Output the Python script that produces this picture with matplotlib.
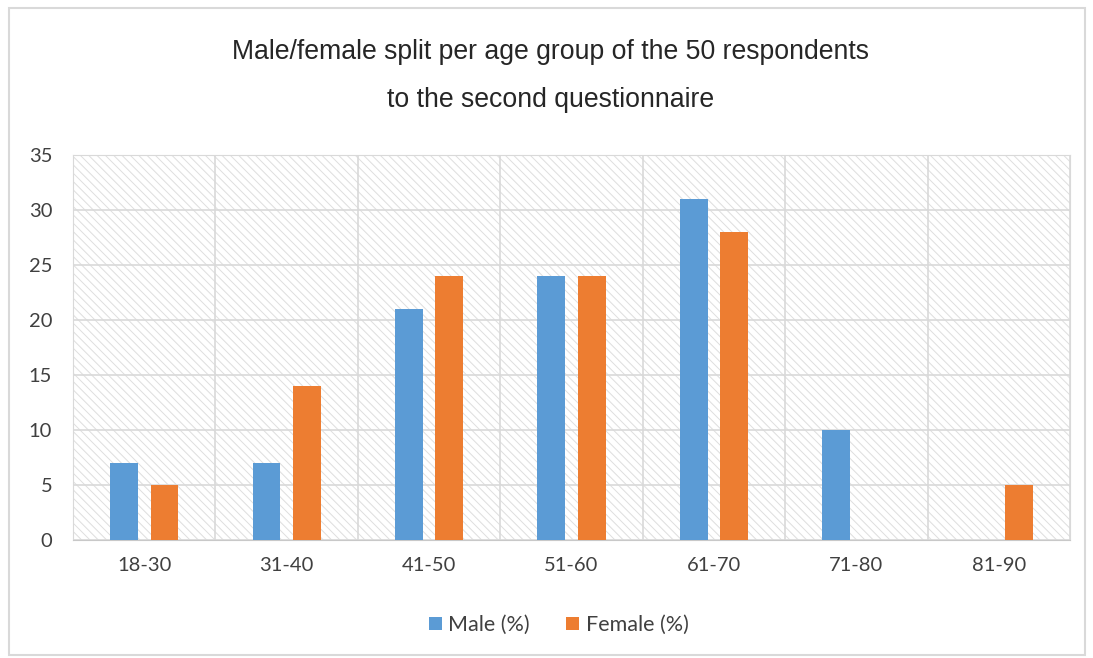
import matplotlib.pyplot as plt
from matplotlib.patches import Rectangle
import numpy as np

# age groups and share of respondents (%) per gender
age_groups = ["18-30", "31-40", "41-50", "51-60", "61-70", "71-80", "81-90"]
male = [7, 7, 21, 24, 31, 10, 0]
female = [5, 14, 24, 24, 28, 0, 5]

blue = "#5B9BD5"
orange = "#ED7D31"
grid_col = "#d9d9d9"

plt.rcParams["hatch.linewidth"] = 0.7

fig = plt.figure(figsize=(10.93, 6.58), dpi=100)
ax = fig.add_axes([0.0668, 0.1793, 0.9122, 0.5851])

x = np.arange(len(age_groups))
w = 0.195
ax.bar(x - 0.142, male, w, color=blue, label="Male (%)", zorder=3)
ax.bar(x + 0.142, female, w, color=orange, label="Female (%)", zorder=3)

ax.set_xlim(-0.5, len(age_groups) - 0.5)
ax.set_ylim(0, 35)
ax.set_yticks(range(0, 36, 5))
ax.set_xticks(x)
ax.set_xticklabels(age_groups)
ax.set_xticks(np.arange(-0.5, len(age_groups), 1), minor=True)

# hatched plot area like the spreadsheet style
hatch = Rectangle((0, 0), 1, 1, transform=ax.transAxes, facecolor="white",
                  edgecolor="#dedede", hatch="\\\\\\\\", linewidth=0, zorder=0)
ax.add_patch(hatch)

ax.grid(axis="y", color=grid_col, linewidth=1.2, zorder=1)
ax.grid(axis="x", which="minor", color=grid_col, linewidth=1.2, zorder=1)
ax.grid(axis="x", which="major", visible=False)
ax.set_axisbelow(True)

for side in ["top", "left", "right"]:
    ax.spines[side].set_color(grid_col)
ax.spines["bottom"].set_color("#c8c8c8")
ax.tick_params(which="both", length=0)
ax.tick_params(axis="y", pad=15, labelsize=14.5, labelcolor="#404040")
ax.tick_params(axis="x", pad=12, labelsize=14.5, labelcolor="#404040")
for lab in ax.get_xticklabels() + ax.get_yticklabels():
    lab.set_family("Lato")

# title on two lines
fig.text(0.504, 0.921, "Male/female split per age group of the 50 respondents",
         ha="center", va="center", fontsize=19.2, family="Liberation Sans", color="#262626")
fig.text(0.504, 0.848, "to the second questionnaire",
         ha="center", va="center", fontsize=19.2, family="Liberation Sans", color="#262626")

leg = fig.legend(loc="center", bbox_to_anchor=(0.511, 0.05), ncol=2, frameon=False,
                 handlelength=0.6, handleheight=0.6, handletextpad=0.3, columnspacing=1.7,
                 prop={"family": "Lato", "size": 15.5})
for t in leg.get_texts():
    t.set_color("#404040")

# outer chart border
fig.add_artist(Rectangle((9 / 1093, 3 / 658), 1076 / 1093, 647 / 658, transform=fig.transFigure,
                         fill=False, edgecolor=grid_col, linewidth=1.5))

plt.savefig("out.png", dpi=100)
